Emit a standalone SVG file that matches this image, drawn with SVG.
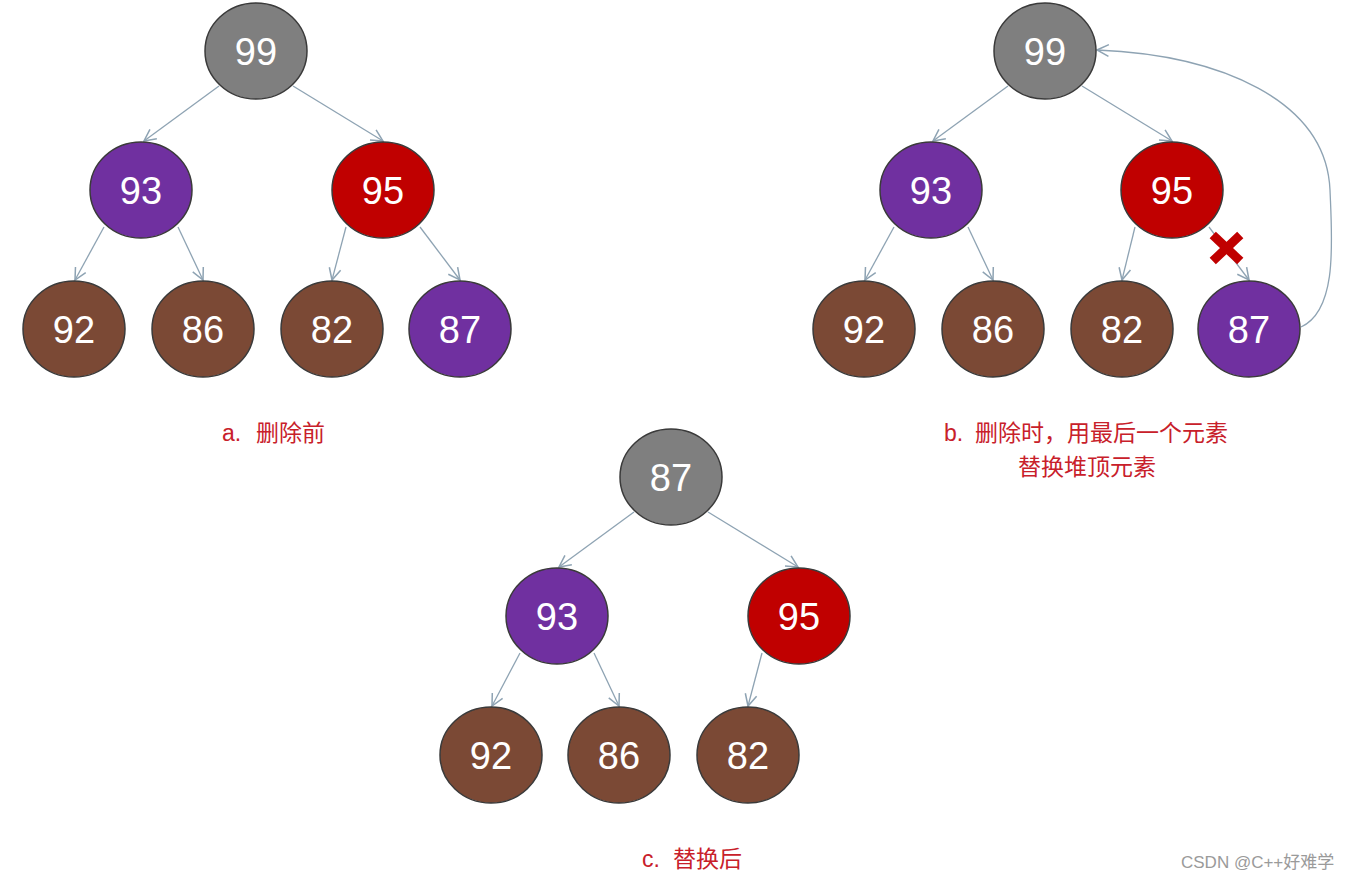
<svg xmlns="http://www.w3.org/2000/svg" width="1349" height="880" viewBox="0 0 1349 880">
<defs>
<marker id="arr" markerUnits="userSpaceOnUse" markerWidth="14" markerHeight="14" viewBox="0 0 12 12" refX="11" refY="6" orient="auto">
<path d="M1,1 L11,6 L1,11" fill="none" stroke="#8ea3b3" stroke-width="1.3"/>
</marker>
<style>
.n ellipse{stroke:#3a3a3a;stroke-width:1.5}
.n text{font-family:"Liberation Sans",Arial,sans-serif;font-size:38px;fill:#ffffff;text-anchor:middle}
.g{fill:#7f7f7f}.p{fill:#7030a0}.r{fill:#c00000}.b{fill:#7b4935}
.e line,.e path{stroke:#8ea3b3;stroke-width:1.3;fill:none;marker-end:url(#arr)}
.cap{font-family:"Liberation Sans","Noto Sans CJK SC",sans-serif;font-size:23px;fill:#c8202a}
</style>
</defs>
<rect width="1349" height="880" fill="#ffffff"/>

<g id="connectors" class="e">
<line x1="219" y1="86" x2="144" y2="141"/>
<line x1="293" y1="86" x2="383" y2="141"/>
<line x1="104" y1="227" x2="75" y2="280"/>
<line x1="178" y1="227" x2="203" y2="280"/>
<line x1="346" y1="227" x2="332" y2="280"/>
<line x1="420" y1="227" x2="460" y2="280"/>
<line x1="1008" y1="86" x2="933" y2="141"/>
<line x1="1082" y1="86" x2="1172" y2="141"/>
<line x1="894" y1="227" x2="865" y2="280"/>
<line x1="968" y1="227" x2="993" y2="280"/>
<line x1="1135" y1="227" x2="1122" y2="280"/>
<line x1="1209" y1="227" x2="1249" y2="280"/>
<path d="M1301,327 C1338,310 1332,240 1330,190 C1326,100 1220,55 1097,50"/>
<line x1="634" y1="512" x2="559" y2="567"/>
<line x1="708" y1="512" x2="798" y2="567"/>
<line x1="520" y1="653" x2="492" y2="706"/>
<line x1="594" y1="653" x2="619" y2="706"/>
<line x1="762" y1="653" x2="748" y2="706"/>
</g>

<g id="cross">
<line x1="1216" y1="238" x2="1237" y2="258" stroke="#c00000" stroke-width="9" stroke-linecap="square"/>
<line x1="1237" y1="238" x2="1216" y2="258" stroke="#c00000" stroke-width="9" stroke-linecap="square"/>
</g>

<g id="a99" class="n"><ellipse class="g" cx="256" cy="51" rx="51" ry="48"/><text x="256" y="65">99</text></g>
<g id="a93" class="n"><ellipse class="p" cx="141" cy="190" rx="51" ry="48"/><text x="141" y="204">93</text></g>
<g id="a95" class="n"><ellipse class="r" cx="383" cy="190" rx="51" ry="48"/><text x="383" y="204">95</text></g>
<g id="a92" class="n"><ellipse class="b" cx="74" cy="329" rx="51" ry="48"/><text x="74" y="343">92</text></g>
<g id="a86" class="n"><ellipse class="b" cx="203" cy="329" rx="51" ry="48"/><text x="203" y="343">86</text></g>
<g id="a82" class="n"><ellipse class="b" cx="332" cy="329" rx="51" ry="48"/><text x="332" y="343">82</text></g>
<g id="a87" class="n"><ellipse class="p" cx="460" cy="329" rx="51" ry="48"/><text x="460" y="343">87</text></g>

<g id="b99" class="n"><ellipse class="g" cx="1045" cy="51" rx="51" ry="48"/><text x="1045" y="65">99</text></g>
<g id="b93" class="n"><ellipse class="p" cx="931" cy="190" rx="51" ry="48"/><text x="931" y="204">93</text></g>
<g id="b95" class="n"><ellipse class="r" cx="1172" cy="190" rx="51" ry="48"/><text x="1172" y="204">95</text></g>
<g id="b92" class="n"><ellipse class="b" cx="864" cy="329" rx="51" ry="48"/><text x="864" y="343">92</text></g>
<g id="b86" class="n"><ellipse class="b" cx="993" cy="329" rx="51" ry="48"/><text x="993" y="343">86</text></g>
<g id="b82" class="n"><ellipse class="b" cx="1122" cy="329" rx="51" ry="48"/><text x="1122" y="343">82</text></g>
<g id="b87" class="n"><ellipse class="p" cx="1249" cy="329" rx="51" ry="48"/><text x="1249" y="343">87</text></g>

<g id="c87" class="n"><ellipse class="g" cx="671" cy="477" rx="51" ry="48"/><text x="671" y="491">87</text></g>
<g id="c93" class="n"><ellipse class="p" cx="557" cy="616" rx="51" ry="48"/><text x="557" y="630">93</text></g>
<g id="c95" class="n"><ellipse class="r" cx="799" cy="616" rx="51" ry="48"/><text x="799" y="630">95</text></g>
<g id="c92" class="n"><ellipse class="b" cx="491" cy="755" rx="51" ry="48"/><text x="491" y="769">92</text></g>
<g id="c86" class="n"><ellipse class="b" cx="619" cy="755" rx="51" ry="48"/><text x="619" y="769">86</text></g>
<g id="c82" class="n"><ellipse class="b" cx="748" cy="755" rx="51" ry="48"/><text x="748" y="769">82</text></g>

<g id="captions">
<text class="cap" x="222" y="441">a.</text><text class="cap" x="256" y="441">删除前</text>
<text class="cap" x="944" y="441">b.</text><text class="cap" x="975" y="441">删除时，用最后一个元素</text>
<text class="cap" x="1018" y="475">替换堆顶元素</text>
<text class="cap" x="642" y="867">c.</text><text class="cap" x="673" y="867">替换后</text>
<text x="1181" y="868" font-family="Liberation Sans,'Noto Sans CJK SC',sans-serif" font-size="17" fill="#9a9a9a">CSDN @C++好难学</text>
</g>
</svg>
